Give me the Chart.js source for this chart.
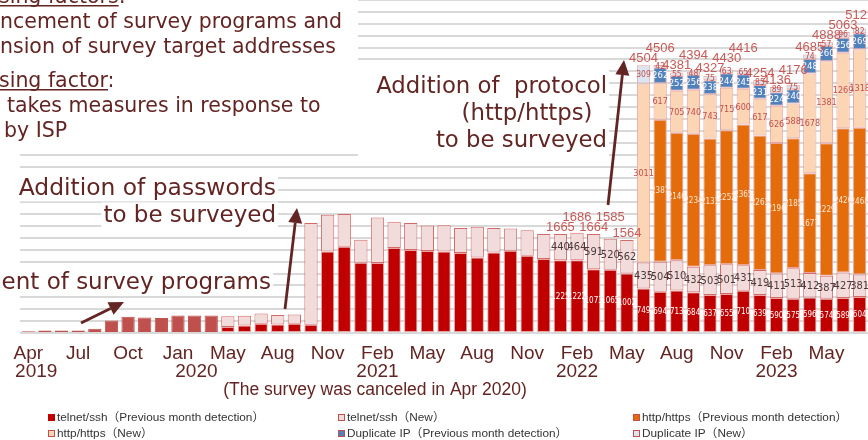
<!DOCTYPE html>
<html>
<head>
<meta charset="utf-8">
<script src="https://cdn.jsdelivr.net/npm/chart.js@4.4.1/dist/chart.umd.min.js"></script>
<style>
  html, body { margin: 0; padding: 0; background: #fff; }
  #wrap { width: 868px; height: 440px; }
</style>
</head>
<body>
<div id="wrap"><canvas id="chart" width="868" height="440"></canvas></div>
<script>
// months shown (Apr 2020 has no survey)
const months = [
  'Apr 2019', 'May 2019', 'Jun 2019', 'Jul 2019', 'Aug 2019', 'Sep 2019', 'Oct 2019', 'Nov 2019', 'Dec 2019',
  'Jan 2020', 'Feb 2020', 'Mar 2020', 'May 2020', 'Jun 2020', 'Jul 2020', 'Aug 2020', 'Sep 2020', 'Oct 2020', 'Nov 2020', 'Dec 2020',
  'Jan 2021', 'Feb 2021', 'Mar 2021', 'Apr 2021', 'May 2021', 'Jun 2021', 'Jul 2021', 'Aug 2021', 'Sep 2021', 'Oct 2021', 'Nov 2021', 'Dec 2021',
  'Jan 2022', 'Feb 2022', 'Mar 2022', 'Apr 2022', 'May 2022', 'Jun 2022', 'Jul 2022', 'Aug 2022', 'Sep 2022', 'Oct 2022', 'Nov 2022', 'Dec 2022',
  'Jan 2023', 'Feb 2023', 'Mar 2023', 'Apr 2023', 'May 2023', 'Jun 2023', 'Jul 2023'
];

// axis text, one entry for every third month
const tickText = [
  ['Apr', '\u00a0\u00a0\u00a02019'], 'Jul', 'Oct', ['Jan', '\u00a0\u00a0\u00a0\u00a0\u00a0\u00a0\u00a02020'], 'May', 'Aug', 'Nov',
  ['Feb', '2021'], 'May', 'Aug', 'Nov', ['Feb', '2022'], 'May', 'Aug', 'Nov', ['Feb', '2023'], 'May'
];

const telnetPrev = [30, 44, 44, 44, 72, 212, 275, 262, 252, 296, 296, 296,
  100, 128, 156, 145, 156, 140, 1371, 1450, 1181, 1176, 1428, 1394, 1378, 1371, 1344, 1270, 1354, 1383, 1299, 1243,
  1225, 1222, 1073, 1065, 1002,
  749, 694, 713, 684, 637, 655, 710, 639, 590, 575, 596, 574, 589, 604];
const telnetNew = [null, null, null, null, null, null, null, null, null, null, null, null,
  180, 163, 174, 157, 157, 1708, 617, 550, 387, 766, 442, 454, 430, 443, 420, 516, 410, 374, 431, 420,
  440, 464, 591, 520, 562,
  435, 504, 510, 432, 503, 501, 431, 419, 411, 513, 412, 387, 427, 381];
const httpPrev = [null, null, null, null, null, null, null, null, null, null, null, null, null, null, null, null, null, null, null,
  null, null, null, null, null, null, null, null, null, null, null, null, null, null, null, null, null, null,
  null, 2387, 2146, 2234, 2131, 2252, 2365, 2263, 2196, 2185, 1677, 2229, 2426, 2468];
const httpNew = [null, null, null, null, null, null, null, null, null, null, null, null, null, null, null, null, null, null, null,
  null, null, null, null, null, null, null, null, null, null, null, null, null, null, null, null, null, null,
  3011, 617, 705, 740, 743, 715, 600, 617, 626, 588, 1678, 1381, 1269, 1318];
const dupPrev = [null, null, null, null, null, null, null, null, null, null, null, null, null, null, null, null, null, null, null,
  null, null, null, null, null, null, null, null, null, null, null, null, null, null, null, null, null, null,
  null, 262, 252, 256, 238, 244, 245, 231, 224, 240, 248, 260, 256, 269];
const dupNew = [null, null, null, null, null, null, null, null, null, null, null, null, null, null, null, null, null, null, null,
  null, null, null, null, null, null, null, null, null, null, null, null, null, null, null, null, null, null,
  309, 42, 55, 48, 75, 63, 65, 85, 89, 75, 74, 57, 96, 82];

const labelFrom = 32; // values are printed from Jan 2022 on
const oldPrograms = 12; // bars before the breakdown started

const brown = '#632523';
const narrow = '"Liberation Sans Narrow", "DejaVu Sans Condensed", "Liberation Sans", sans-serif';
const sans = '"Liberation Sans", Arial, "Noto Sans CJK JP", sans-serif';
const verdana = '"DejaVu Sans", Verdana, sans-serif';

function series(label, data, color, border, inner) {
  return {
    label, data,
    backgroundColor: color,
    legendColor: Array.isArray(color) ? color[color.length - 1] : color,
    borderColor: border,
    borderWidth: 1,
    borderSkipped: false,
    barPercentage: 0.8,
    categoryPercentage: 1.0,
    inner
  };
}

const datasets = [
  series('telnet/ssh（Previous month detection）', telnetPrev,
    months.map((m, i) => i < oldPrograms ? '#C0504D' : '#C00000'),
    months.map((m, i) => i < oldPrograms ? '#C0504D' : '#E6A5A3'),
    { color: '#ffffff', size: 8 }),
  series('telnet/ssh（New）', telnetNew, '#F2DCDB', '#D46A67', { color: '#4a3a3a', size: 11 }),
  series('http/https（Previous month detection）', httpPrev, '#E46C0A', '#E6A5A3', { color: '#FDE9D9', size: 8 }),
  series('http/https（New）', httpNew, '#FCD5B5', '#E6A5A3', { color: '#C0504D', size: 9 }),
  series('Duplicate IP（Previous month detection）', dupPrev, '#4F81BD', '#E6A5A3', { color: '#ffffff', size: 9.5 }),
  series('Duplicate IP（New）', dupNew, '#DCE6F2', '#E6A5A3', { color: '#C0504D', size: 8.5 })
];

function textBox(ctx, text, x, y, size) {
  ctx.font = size + 'px ' + verdana;
  const w = ctx.measureText(text).width;
  const left = ctx.textAlign === 'right' ? x - w : x;
  ctx.fillStyle = '#fff';
  ctx.fillRect(left - 2, y - size * 0.85, w + 4, size * 1.12);
  ctx.fillStyle = brown;
  ctx.fillText(text, x, y);
}

function underline(ctx, text, x, y) {
  const w = ctx.measureText(text).width;
  ctx.fillRect(x, y + 2, w, 1.5);
}

function arrow(ctx, x1, y1, x2, y2) {
  const a = Math.atan2(y2 - y1, x2 - x1), len = 15, half = 7;
  const bx = x2 - len * Math.cos(a), by = y2 - len * Math.sin(a);
  ctx.beginPath();
  ctx.moveTo(x1, y1);
  ctx.lineTo(bx, by);
  ctx.stroke();
  ctx.beginPath();
  ctx.moveTo(x2, y2);
  ctx.lineTo(bx + half * Math.sin(a), by - half * Math.cos(a));
  ctx.lineTo(bx - half * Math.sin(a), by + half * Math.cos(a));
  ctx.closePath();
  ctx.fill();
}

const barText = {
  id: 'barText',
  afterDatasetsDraw(chart) {
    const ctx = chart.ctx;
    ctx.save();
    ctx.textAlign = 'center';
    ctx.textBaseline = 'middle';
    chart.data.datasets.forEach((ds, di) => {
      const meta = chart.getDatasetMeta(di);
      meta.data.forEach((bar, i) => {
        const v = ds.data[i];
        if (v == null || i < labelFrom) return;
        ctx.font = ds.inner.size + 'px ' + narrow;
        ctx.fillStyle = ds.inner.color;
        ctx.fillText(String(v), bar.x, (bar.y + bar.base) / 2 + 0.5);
      });
    });
    // stack totals; a label is lifted above its neighbour when they would collide
    ctx.font = '13px ' + sans;
    ctx.fillStyle = '#C85A57';
    let prev = -100;
    for (let i = labelFrom; i < months.length; i++) {
      let sum = 0, top = Infinity, x = 0;
      chart.data.datasets.forEach((ds, di) => {
        const v = ds.data[i];
        if (v == null) return;
        sum += v;
        const bar = chart.getDatasetMeta(di).data[i];
        top = Math.min(top, bar.y);
        x = bar.x;
      });
      let cy = top - 7;
      if (Math.abs(cy - prev) < 6.5) cy = prev - 10;
      ctx.fillText(String(sum), x, cy);
      prev = cy;
    }
    ctx.restore();
  }
};

const notes = {
  id: 'notes',
  afterDraw(chart) {
    const ctx = chart.ctx;
    ctx.save();
    // white comment panels lying over the grid
    ctx.fillStyle = '#fff';
    ctx.fillRect(0, 0, 358, 150);
    ctx.fillRect(358, 62, 251, 98);

    ctx.fillStyle = brown;
    ctx.textBaseline = 'alphabetic';
    ctx.textAlign = 'left';
    ctx.font = '20.5px ' + verdana;
    ctx.fillText('sing factors:', -1, 3);
    underline(ctx, 'sing factors', -1, 3);
    ctx.fillText('ncement of survey programs and', 0, 28);
    ctx.fillText('nsion of survey target addresses', 0, 53);
    ctx.fillText('sing factor:', -1, 87);
    underline(ctx, 'sing factor', -1, 87);
    ctx.fillText('takes measures in response to', 7, 112);
    ctx.fillText('by ISP', 4, 137);

    ctx.textAlign = 'right';
    ctx.font = '22.8px ' + verdana;
    ctx.fillText('Addition of  protocol', 607, 93);
    ctx.fillText('(http/https)  ', 607, 120);
    ctx.fillText('to be surveyed', 607, 147);

    textBox(ctx, 'Addition of passwords', 276, 195, 23.4);
    textBox(ctx, 'to be surveyed', 276, 222, 23);
    textBox(ctx, 'ent of survey programs', 271, 289, 23);

    ctx.strokeStyle = brown;
    ctx.fillStyle = brown;
    ctx.lineWidth = 2.8;
    arrow(ctx, 81, 323, 124, 302);
    arrow(ctx, 285, 309, 297, 208);
    arrow(ctx, 608, 205, 624, 60);

    // note under the axis
    ctx.textAlign = 'center';
    ctx.font = '17.5px ' + sans;
    ctx.fillText('(The survey was canceled in Apr 2020)', 375, 395);

    // legend, three columns
    const colX = [48, 338, 633], rowY = [418, 434];
    ctx.textAlign = 'left';
    ctx.textBaseline = 'middle';
    ctx.font = '11.8px ' + sans;
    chart.data.datasets.forEach((ds, i) => {
      const x = colX[i % 3], y = rowY[Math.floor(i / 3)];
      ctx.fillStyle = ds.legendColor;
      ctx.fillRect(x, y - 4, 7, 7);
      ctx.strokeStyle = i === 0 ? '#C00000' : '#C0504D';
      ctx.lineWidth = 1;
      ctx.strokeRect(x + 0.5, y - 3.5, 6, 6);
      ctx.fillStyle = '#333';
      ctx.fillText(ds.label, x + 9, y);
    });
    ctx.restore();
  }
};

new Chart(document.getElementById('chart'), {
  type: 'bar',
  data: { labels: months, datasets },
  options: {
    responsive: false,
    animation: false,
    layout: { padding: 0 },
    scales: {
      x: {
        stacked: true,
        grid: { display: false, drawTicks: false },
        border: { display: false },
        ticks: {
          autoSkip: false,
          maxRotation: 0,
          padding: 12,
          color: brown,
          font: { family: sans, size: 19, lineHeight: 0.95 },
          callback: (v, i) => (i % 3 === 0 ? tickText[i / 3] : '')
        },
        afterFit: (s) => { s.height = 107; s.paddingLeft = 0; s.paddingRight = 0; }
      },
      y: {
        stacked: true,
        min: 0,
        max: 5600,
        ticks: { display: false, stepSize: 200 },
        grid: { color: '#D9D9D9', lineWidth: 2, drawTicks: false },
        border: { display: false },
        afterFit: (s) => { s.width = 20; }
      }
    },
    plugins: {
      legend: { display: false },
      tooltip: { enabled: false }
    }
  },
  plugins: [barText, notes]
});
</script>
</body>
</html>
